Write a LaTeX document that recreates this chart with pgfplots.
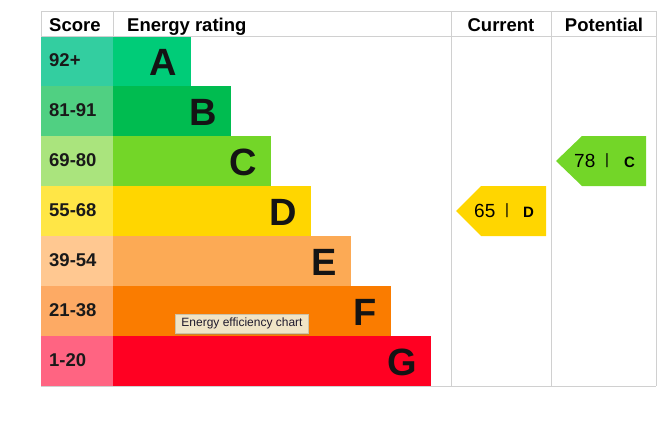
\documentclass[border=0pt]{standalone}
\usepackage{fontspec}
\setmainfont{Liberation Sans}
\usepackage{pgfplots}
\pgfplotsset{compat=1.18}
\usetikzlibrary{shadows}

% score cells / rating bars
\definecolor{sA}{RGB}{51,206,160}  \definecolor{bA}{RGB}{0,204,120}
\definecolor{sB}{RGB}{80,208,130}  \definecolor{bB}{RGB}{0,188,80}
\definecolor{sC}{RGB}{170,228,125} \definecolor{bC}{RGB}{115,214,40}
\definecolor{sD}{RGB}{255,230,70}  \definecolor{bD}{RGB}{255,214,0}
\definecolor{sE}{RGB}{255,200,145} \definecolor{bE}{RGB}{252,170,85}
\definecolor{sF}{RGB}{253,170,100} \definecolor{bF}{RGB}{250,124,0}
\definecolor{sG}{RGB}{255,100,130} \definecolor{bG}{RGB}{255,0,34}
\definecolor{gridgray}{RGB}{208,208,208}
\definecolor{tipbg}{RGB}{240,228,198}

\newcommand{\scorefont}{\fontsize{18.5}{20}\selectfont\bfseries}
\newcommand{\bandfont}{\fontsize{38}{40}\selectfont\bfseries}

\begin{document}
\begin{tikzpicture}[
    score/.style={anchor=west, inner sep=0pt, text=black!90, font=\scorefont},
    band/.style={anchor=east, inner sep=0pt, text=black!92, font=\bandfont},
    head/.style={inner sep=0pt, font=\scorefont},
]
\begin{axis}[
    xmin=-113, xmax=559,
    ymin=0, ymax=423,
    y dir=reverse,
    width=672pt, height=423pt,
    scale only axis,
    hide axis,
    clip=false,
    every axis plot/.append style={draw=none, bar width=50, bar shift=0pt},
]
% keep the whole canvas
\path (axis cs:-113,0) rectangle (axis cs:559,423);

% score column (drawn leftwards from 0)
\addplot[xbar, fill=sA] coordinates {(-72,61)};
\addplot[xbar, fill=sB] coordinates {(-72,111)};
\addplot[xbar, fill=sC] coordinates {(-72,161)};
\addplot[xbar, fill=sD] coordinates {(-72,211)};
\addplot[xbar, fill=sE] coordinates {(-72,261)};
\addplot[xbar, fill=sF] coordinates {(-72,311)};
\addplot[xbar, fill=sG] coordinates {(-72,361)};
% rating bars
\addplot[xbar, fill=bA] coordinates {(78,61)};
\addplot[xbar, fill=bB] coordinates {(118,111)};
\addplot[xbar, fill=bC] coordinates {(158,161)};
\addplot[xbar, fill=bD] coordinates {(198,211)};
\addplot[xbar, fill=bE] coordinates {(238,261)};
\addplot[xbar, fill=bF] coordinates {(278,311)};
\addplot[xbar, fill=bG] coordinates {(318,361)};

% current / potential flags
\addplot[fill=bD] coordinates {(343,211) (368,186) (433,186) (433,236) (368,236)} -- cycle;
\addplot[fill=bC] coordinates {(443,161) (469,136) (533,136) (533,186) (469,186)} -- cycle;

% table lines
\draw[gridgray, line width=1pt]
    (axis cs:-72,11) -- (axis cs:543,11)
    (axis cs:-72,36) -- (axis cs:543,36)
    (axis cs:-72,386) -- (axis cs:543,386)
    (axis cs:-72,11) -- (axis cs:-72,36)
    (axis cs:0,11) -- (axis cs:0,36)
    (axis cs:338,11) -- (axis cs:338,386)
    (axis cs:438,11) -- (axis cs:438,386)
    (axis cs:543,11) -- (axis cs:543,386);

% headers (on a common baseline)
\node[head, anchor=base west] at (axis cs:-64,31.5) {Score};
\node[head, anchor=base west] at (axis cs:14,31.5) {Energy rating};
\node[head, anchor=base] at (axis cs:388,31.5) {Current};
\node[head, anchor=base] at (axis cs:491,31.5) {Potential};

% score labels
\node[score] at (axis cs:-64,60) {92+};
\node[score] at (axis cs:-64,110) {81-91};
\node[score] at (axis cs:-64,160) {69-80};
\node[score] at (axis cs:-64,210) {55-68};
\node[score] at (axis cs:-64,260) {39-54};
\node[score] at (axis cs:-64,310) {21-38};
\node[score] at (axis cs:-64,360) {1-20};

% band letters
\node[band] at (axis cs:64,62) {A};
\node[band] at (axis cs:104,112) {B};
\node[band] at (axis cs:144,162) {C};
\node[band] at (axis cs:184,212) {D};
\node[band] at (axis cs:224,262) {E};
\node[band] at (axis cs:264,312) {F};
\node[band] at (axis cs:304,362) {G};

% flag texts
\node[anchor=west, inner sep=0pt, font=\fontsize{19}{20}\selectfont] at (axis cs:361,211) {65};
\node[inner sep=0pt, font=\fontsize{15}{16}\selectfont] at (axis cs:394,211) {|};
\node[anchor=west, inner sep=0pt, font=\fontsize{15}{16}\selectfont\bfseries] at (axis cs:410,212) {D};
\node[anchor=west, inner sep=0pt, font=\fontsize{19}{20}\selectfont] at (axis cs:461,161) {78};
\node[inner sep=0pt, font=\fontsize{15}{16}\selectfont] at (axis cs:494,161) {|};
\node[anchor=west, inner sep=0pt, font=\fontsize{15}{16}\selectfont\bfseries] at (axis cs:511,162) {C};

% tooltip
\node[fill=tipbg, draw=tipbg!85!black, line width=0.3pt, inner xsep=6pt, minimum height=19pt,
      drop shadow={opacity=0.35, shadow xshift=0pt, shadow yshift=-2pt},
      text={rgb,255:red,30;green,25;blue,45}, font=\fontsize{12}{13}\selectfont]
    at (axis cs:129,323.5) {Energy efficiency chart};
\end{axis}
\end{tikzpicture}
\end{document}
